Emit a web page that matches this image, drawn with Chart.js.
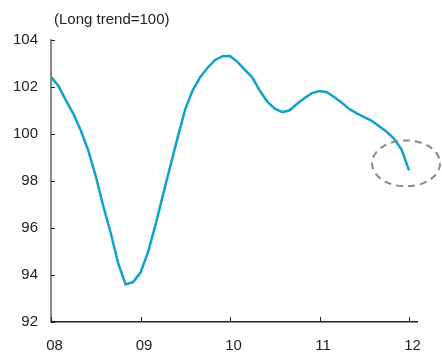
<!DOCTYPE html>
<html>
<head>
<meta charset="utf-8">
<script src="https://cdn.jsdelivr.net/npm/chart.js@4"></script>
<style>
  html, body { margin: 0; padding: 0; background: #fff; }
  #wrap { width: 442px; height: 352px; }
</style>
</head>
<body>
<div id="wrap"><canvas id="trendChart" width="442" height="352"></canvas></div>
<script>
// ==========================
// DATA
// ==========================
// monthly index, Jan 2008 = 0 ... Jan 2012 = 48
const values = [
  102.43, 102.04, 101.43, 100.86, 100.15, 99.29, 98.21, 96.94, 95.80, 94.50,
  93.60, 93.70, 94.10, 94.96, 96.12, 97.39, 98.64, 99.88, 101.06, 101.86,
  102.42, 102.82, 103.15, 103.31, 103.32, 103.07, 102.73, 102.40, 101.84, 101.38,
  101.08, 100.93, 101.01, 101.29, 101.53, 101.74, 101.83, 101.78, 101.56, 101.33,
  101.06, 100.88, 100.72, 100.56, 100.33, 100.10, 99.79, 99.34, 98.45
];
const yearTicks = [0, 12, 24, 36, 48];
const yearLabels = ["08", "09", "10", "11", "12"];
const yTicks = [92, 94, 96, 98, 100, 102, 104];
const titleText = "(Long trend=100)";

const points = values.map((v, i) => ({ x: i, y: v }));

// ==========================
// PLUGIN: inward ticks, title, dashed ellipse
// ==========================
const extras = {
  id: "extras",
  afterDraw(chart) {
    const { ctx, scales: { x, y } } = chart;
    ctx.save();

    // inward tick marks
    ctx.strokeStyle = "#222";
    ctx.lineWidth = 1;
    yTicks.forEach((v) => {
      const py = Math.round(y.getPixelForValue(v)) + 0.5;
      ctx.beginPath();
      ctx.moveTo(x.left, py);
      ctx.lineTo(x.left + 4, py);
      ctx.stroke();
    });
    yearTicks.forEach((v) => {
      const px = Math.round(x.getPixelForValue(v)) + 0.5;
      ctx.beginPath();
      ctx.moveTo(px, y.bottom);
      ctx.lineTo(px, y.bottom - 5);
      ctx.stroke();
    });

    // title
    ctx.fillStyle = "#222";
    ctx.font = "15px 'Liberation Sans', Arial, sans-serif";
    ctx.textBaseline = "middle";
    ctx.textAlign = "left";
    ctx.fillText(titleText, 54, 20);

    // dashed ellipse around the latest point
    const cx = x.getPixelForValue(47.6);
    const cy = y.getPixelForValue(98.75);
    ctx.strokeStyle = "#8a8a8a";
    ctx.lineWidth = 2;
    ctx.setLineDash([7, 5]);
    ctx.beginPath();
    ctx.ellipse(cx, cy, 34, 23, 0, 0, Math.PI * 2);
    ctx.stroke();

    ctx.restore();
  },
};

// ==========================
// CHART
// ==========================
const canvas = document.getElementById("trendChart");
new Chart(canvas, {
  type: "line",
  data: {
    datasets: [
      {
        data: points,
        borderColor: "#10a2c9",
        borderWidth: 2.5,
        pointRadius: 0,
        tension: 0,
        fill: false,
      },
    ],
  },
  options: {
    responsive: false,
    animation: false,
    layout: { padding: { top: 40, right: 25, bottom: 0, left: 0 } },
    plugins: {
      legend: { display: false },
      tooltip: { enabled: false },
    },
    scales: {
      x: {
        type: "linear",
        min: 0,
        max: 49.07,
        afterBuildTicks: (scale) => {
          scale.ticks = yearTicks.map((v) => ({ value: v }));
        },
        afterFit: (scale) => {
          scale.height = 30;
        },
        grid: { display: false, drawTicks: false },
        border: { display: true, color: "#222", width: 1.5 },
        ticks: {
          callback: (v) => yearLabels[yearTicks.indexOf(v)],
          font: { family: "'Liberation Sans', Arial, sans-serif", size: 15 },
          color: "#222",
          padding: 15,
          labelOffset: 3.5,
          maxRotation: 0,
        },
      },
      y: {
        min: 92,
        max: 104,
        afterBuildTicks: (scale) => {
          scale.ticks = yTicks.map((v) => ({ value: v }));
        },
        afterFit: (scale) => {
          scale.width = 51;
        },
        grid: { display: false, drawTicks: false },
        border: { display: true, color: "#8a8a8a", width: 2 },
        ticks: {
          font: { family: "'Liberation Sans', Arial, sans-serif", size: 15 },
          color: "#222",
          padding: 13,
        },
      },
    },
  },
  plugins: [extras],
});
</script>
</body>
</html>
